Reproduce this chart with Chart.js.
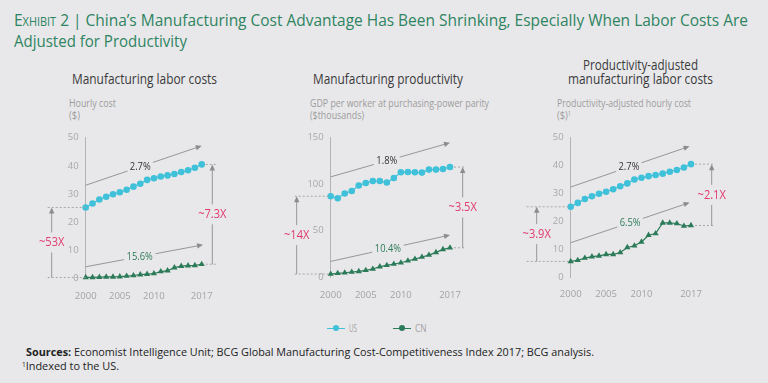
<!DOCTYPE html>
<html><head><meta charset="utf-8">
<script src="https://cdn.jsdelivr.net/npm/chart.js@4.4.1/dist/chart.umd.min.js"></script>
<style>
html,body{margin:0;padding:0;background:#e8e8ea;}
body{width:768px;height:383px;position:relative;overflow:hidden;font-family:"Open Sans",sans-serif;}
.t{position:absolute;white-space:nowrap;line-height:1;}
canvas{position:absolute;}
.sc{font-variant:small-caps;}
sup{font-size:0.6em;vertical-align:0.5em;line-height:0;}
</style></head><body>
<canvas id="c1"></canvas><canvas id="c2"></canvas><canvas id="c3"></canvas>
<script>
// ---------------- DATA ----------------
const years = [2000,2001,2002,2003,2004,2005,2006,2007,2008,2009,2010,2011,2012,2013,2014,2015,2016,2017];
const tickYears = [2000,2005,2010,2017];
const seriesNames = ['US','CN'];

const laborUS = [25.2,26.6,28.0,29.0,29.9,30.6,31.5,32.6,33.6,35.0,35.6,36.2,36.6,37.1,37.8,38.4,39.3,40.5];
const laborCN = [0.3,0.3,0.4,0.5,0.5,0.6,0.8,1.0,1.3,1.5,1.7,2.4,2.7,3.8,4.3,4.5,4.6,5.0];
const laborTicks = [0,10,20,30,40,50];

const prodUS = [87.1,85.0,90.0,92.8,98.6,101.4,103.5,103.5,101.8,106.7,112.8,113.1,112.8,112.5,115.7,115.7,116.4,118.5];
const prodCN = [3.5,4.3,4.9,5.7,6.4,7.5,8.9,11.4,12.9,14.3,15.6,17.8,19.6,21.8,23.9,26.8,30.0,31.7];
const prodTicks = [0,50,100,150];

const adjUS = [25.2,26.6,28.0,29.0,29.9,30.6,31.5,32.6,33.6,35.0,35.6,36.2,36.6,37.1,37.8,38.4,39.3,40.5];
const adjCN = [5.6,6.0,6.8,7.3,7.6,8.1,8.1,8.8,10.6,11.2,12.6,15.0,15.6,19.4,19.4,19.2,18.3,18.5];
const adjTicks = [0,10,20,30,40,50];

// growth-rate labels and gap multiples
const laborGrowth = ['2.7%','15.6%'];
const prodGrowth  = ['1.8%','10.4%'];
const adjGrowth   = ['2.7%','6.5%'];
const laborMultiples = ['~53X','~7.3X'];
const prodMultiples  = ['~14X','~3.5X'];
const adjMultiples   = ['~3.9X','~2.1X'];
// trend arrows (data space): [startYear, startValue, endYear, endValue]
const laborArrows = [[2000,33.1,2017,47.1],[2000,4.1,2017.2,11.9]];
const prodArrows  = [[2000,107.9,2017,144.6],[2000,17.1,2017,45.4]];
const adjArrows   = [[2000,32.3,2016.8,46.9],[2000,12.3,2016.8,26.7]];

// ---------------- STYLE ----------------
const US_C = '#3fc1d9', CN_C = '#2b7a58', PINK = '#e23a6c', GREY = '#8c8c8c';
const FONT = '"Open Sans", sans-serif';

// ---------------- TEXT ----------------
function addText(html, o) {
  const d = document.createElement('div');
  d.className = 't';
  d.innerHTML = html;
  d.style.fontSize = o.size + 'px';
  d.style.color = o.color;
  if (o.weight) d.style.fontWeight = o.weight;
  document.body.appendChild(d);
  const nat = d.getBoundingClientRect().width;
  const w = o.w || nat;
  const s = w / nat;
  d.style.transformOrigin = '0 0';
  d.style.transform = 'scaleX(' + s + ')';
  d.style.left = (o.align === 'center' ? o.x - w / 2 : o.x) + 'px';
  d.style.top = (o.y - o.size * 0.55) + 'px';
}
const TITLE_C = '#2e8461';
addText('<span class="sc">Exhibit 2</span> | China’s Manufacturing Cost Advantage Has Been Shrinking, Especially When Labor Costs Are', {x:14,y:20,size:17,color:TITLE_C,w:734});
addText('Adjusted for Productivity', {x:14,y:41,size:17,color:TITLE_C,w:173});

const PT = '#3a3a3a';
addText('Manufacturing labor costs', {x:144,y:80,size:14,color:PT,w:145,align:'center'});
addText('Manufacturing productivity', {x:388,y:80,size:14,color:PT,w:150,align:'center'});
addText('Productivity-adjusted', {x:640,y:66,size:14,color:PT,w:115,align:'center'});
addText('manufacturing labor costs', {x:640,y:80,size:14,color:PT,w:145,align:'center'});

const ST = '#9c9c9c';
addText('Hourly cost', {x:69,y:104,size:10.5,color:ST,w:47});
addText('($)', {x:69,y:116,size:10.5,color:ST,w:11});
addText('GDP per worker at purchasing-power parity', {x:310,y:104,size:10.5,color:ST,w:179});
addText('($thousands)', {x:310,y:116,size:10.5,color:ST,w:54});
addText('Productivity-adjusted hourly cost', {x:557,y:104,size:10.5,color:ST,w:134});
addText('($)<sup>1</sup>', {x:557,y:116,size:10.5,color:ST,w:14});

addText('<b>Sources:</b> Economist Intelligence Unit; BCG Global Manufacturing Cost-Competitiveness Index 2017; BCG analysis.', {x:26,y:352,size:11,color:'#222',w:568});
addText('<sup>1</sup>Indexed to the US.', {x:22,y:366,size:11,color:'#222',w:97});

// legend
function legendItem(x0, color, name, tw) {
  const l = document.createElement('div');
  l.style.cssText = 'position:absolute;left:'+x0+'px;top:327.5px;width:18px;height:1.5px;background:'+color+';';
  document.body.appendChild(l);
  const dot = document.createElement('div');
  dot.style.cssText = 'position:absolute;left:'+(x0+6)+'px;top:325px;width:6px;height:6px;border-radius:50%;background:'+color+';';
  document.body.appendChild(dot);
  addText(name, {x:x0+22,y:328,size:10,color:'#a0a0a0',w:tw});
}
legendItem(327, US_C, seriesNames[0], 8);
legendItem(393, CN_C, seriesNames[1], 11.5);

// ---------------- ANNOTATION PLUGIN ----------------
function arrowHead(ctx, x, y, ang, size) {
  ctx.save();
  ctx.translate(x, y); ctx.rotate(ang);
  ctx.beginPath();
  ctx.moveTo(0, 0); ctx.lineTo(-size, -size*0.45); ctx.lineTo(-size, size*0.45); ctx.closePath();
  ctx.fill();
  ctx.restore();
}
function scaledText(ctx, txt, x, y, sx) {
  ctx.save(); ctx.translate(x, y); ctx.scale(sx, 1); ctx.fillText(txt, 0, 0); ctx.restore();
}
const annPlugin = {
  id: 'ann',
  afterDatasetsDraw(chart, args, o) {
    const ctx = chart.ctx, xs = chart.scales.x, ys = chart.scales.y;
    const px = yr => xs.getPixelForValue(yr - years[0]);
    const py = v => ys.getPixelForValue(v);
    ctx.save();
    ctx.textAlign = 'center'; ctx.textBaseline = 'middle';
    // trend arrows
    o.arrows.forEach((a, i) => {
      const x1 = px(a[0]), y1 = py(a[1]), x2 = px(a[2]), y2 = py(a[3]);
      const t = o.t[i];
      const lx = x1 + (x2 - x1) * t, ly = y1 + (y2 - y1) * t;
      ctx.font = '11px ' + FONT;
      const w = ctx.measureText(o.growth[i]).width * 0.85;
      const len = Math.hypot(x2 - x1, y2 - y1), ux = (x2 - x1) / len, uy = (y2 - y1) / len;
      const g = w / 2 + 3;
      ctx.strokeStyle = GREY; ctx.fillStyle = GREY; ctx.lineWidth = 0.9;
      ctx.beginPath();
      ctx.moveTo(x1, y1); ctx.lineTo(lx - ux * g, ly - uy * g);
      ctx.moveTo(lx + ux * g, ly + uy * g); ctx.lineTo(x2 - ux * 3, y2 - uy * 3);
      ctx.stroke();
      arrowHead(ctx, x2, y2, Math.atan2(uy, ux), 6);
      ctx.fillStyle = i === 0 ? '#333' : CN_C;
      scaledText(ctx, o.growth[i], lx, ly, 0.85);
    });
    // gap brackets
    const us = chart.data.datasets[0].data, cn = chart.data.datasets[1].data;
    const brackets = [
      {top: us[0], bot: cn[0], xr: px(years[0]), dx: o.left.dx, d0: o.left.dash, d1: 0, label: o.multiples[0]},
      {top: us[us.length-1], bot: cn[cn.length-1], xr: px(years[years.length-1]), dx: o.right.dx, d0: 4, d1: o.right.dash, label: o.multiples[1]}
    ];
    brackets.forEach(b => {
      const yt = py(b.top), yb = py(b.bot), ax = b.xr + b.dx;
      ctx.strokeStyle = '#a0a0a0'; ctx.lineWidth = 0.9;
      ctx.setLineDash([2, 2]);
      ctx.beginPath();
      ctx.moveTo(b.xr + b.d0, yt); ctx.lineTo(b.xr + b.d1, yt);
      ctx.moveTo(b.xr + b.d0, yb); ctx.lineTo(b.xr + b.d1, yb);
      ctx.stroke();
      ctx.setLineDash([]);
      const my = (yt + yb) / 2;
      ctx.strokeStyle = GREY; ctx.fillStyle = GREY;
      ctx.beginPath();
      ctx.moveTo(ax, yb); ctx.lineTo(ax, my + 10);
      ctx.moveTo(ax, my - 10); ctx.lineTo(ax, yt + 4);
      ctx.stroke();
      arrowHead(ctx, ax, yt, -Math.PI / 2, 6);
      ctx.fillStyle = PINK;
      ctx.font = '13px ' + FONT;
      scaledText(ctx, b.label, ax, my, 0.85);
    });
    ctx.restore();
  }
};

// ---------------- CHARTS ----------------
function makeChart(id, box, area, us, cn, yTicks, ann) {
  const cv = document.getElementById(id);
  cv.style.left = box.left + 'px'; cv.style.top = box.top + 'px';
  cv.style.width = box.width + 'px'; cv.style.height = box.height + 'px';
  cv.width = box.width; cv.height = box.height;
  const XH = 24;
  return new Chart(cv, {
    type: 'line',
    data: {
      labels: years.map(String),
      datasets: [
        {label: seriesNames[0], data: us, borderColor: US_C, backgroundColor: US_C, borderWidth: 1.2,
         pointRadius: 3.3, pointBorderWidth: 0, pointStyle: 'circle', clip: false, tension: 0},
        {label: seriesNames[1], data: cn, borderColor: CN_C, backgroundColor: CN_C, borderWidth: 1.2,
         pointRadius: 3.6, pointBorderWidth: 0, pointStyle: 'triangle', clip: false, tension: 0}
      ]
    },
    options: {
      responsive: false, animation: false, devicePixelRatio: 1,
      layout: {padding: {left: 0, top: area.top - box.top, right: box.left + box.width - area.right,
               bottom: box.top + box.height - area.bottom - XH}},
      plugins: {legend: {display: false}, tooltip: {enabled: false}, ann: ann},
      scales: {
        x: {
          type: 'category', offset: false,
          grid: {display: false, drawTicks: false}, border: {display: false},
          ticks: {autoSkip: false, maxRotation: 0, padding: 12, color: '#a3a3a3',
                  font: {family: FONT, size: 9.5},
                  callback: (v, i) => tickYears.includes(years[i]) ? String(years[i]) : ''},
          afterFit: s => { s.height = XH; }
        },
        y: {
          min: yTicks[0], max: yTicks[yTicks.length - 1],
          afterBuildTicks: s => { s.ticks = yTicks.map(v => ({value: v})); },
          grid: {display: false, drawTicks: false}, border: {display: true, color: '#b3b3b3', width: 1},
          ticks: {padding: 7, color: '#a8a8a8', font: {family: FONT, size: 9.5}},
          afterFit: s => { s.width = area.left - box.left; }
        }
      }
    },
    plugins: [annPlugin]
  });
}

makeChart('c1', {left: 20, top: 125, width: 240, height: 185},
  {left: 85.7, right: 201.7, top: 135, bottom: 278.3}, laborUS, laborCN, laborTicks,
  {arrows: laborArrows, growth: laborGrowth, t: [0.47, 0.46], multiples: laborMultiples,
   left: {dx: -34, dash: -38}, right: {dx: 10.6, dash: 15}});
makeChart('c2', {left: 270, top: 125, width: 240, height: 185},
  {left: 330.7, right: 450, top: 137.3, bottom: 277.3}, prodUS, prodCN, prodTicks,
  {arrows: prodArrows, growth: prodGrowth, t: [0.47, 0.48], multiples: prodMultiples,
   left: {dx: -34, dash: -36}, right: {dx: 12.7, dash: 15}});
makeChart('c3', {left: 515, top: 125, width: 250, height: 185},
  {left: 570.7, right: 691, top: 137.3, bottom: 277}, adjUS, adjCN, adjTicks,
  {arrows: adjArrows, growth: adjGrowth, t: [0.49, 0.5], multiples: adjMultiples,
   left: {dx: -34, dash: -44}, right: {dx: 20.7, dash: 24}});
</script>
</body></html>
